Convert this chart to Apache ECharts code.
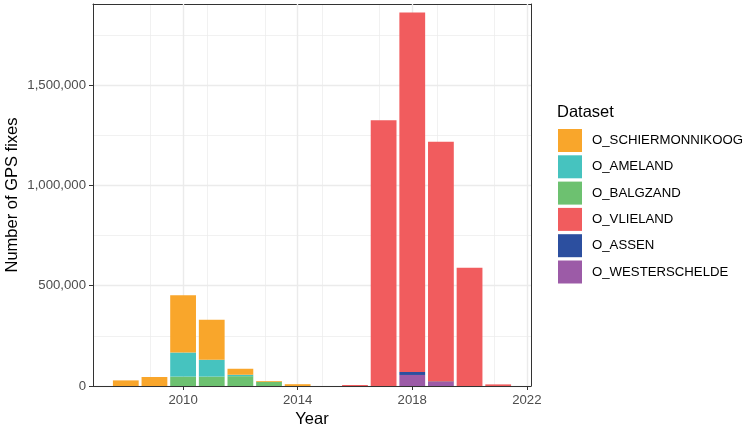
<!DOCTYPE html>
<html>
<head>
<meta charset="utf-8">
<script src="https://cdn.jsdelivr.net/npm/echarts@6/dist/echarts.min.js"></script>
<style>
  html, body { margin: 0; padding: 0; background: #fff; }
  #chart { width: 756px; height: 429px; }
</style>
</head>
<body>
<div id="chart"></div>
<script>
// ---- Data ----
var years = [2008, 2009, 2010, 2011, 2012, 2013, 2014, 2015, 2016, 2017, 2018, 2019, 2020, 2021];
var datasetNames = ['O_SCHIERMONNIKOOG', 'O_AMELAND', 'O_BALGZAND', 'O_VLIELAND', 'O_ASSEN', 'O_WESTERSCHELDE'];
var schiermonnikoog = [28000, 45000, 286000, 199000, 30000, 4000, 9000, 0, 0, 0, 0, 0, 0, 0];
var ameland         = [0, 0, 120000, 84000, 7000, 0, 0, 0, 0, 0, 0, 0, 0, 0];
var balgzand        = [0, 0, 47000, 47000, 49000, 21000, 0, 0, 0, 0, 0, 0, 0, 0];
var vlieland        = [0, 0, 0, 0, 0, 0, 0, 0, 5000, 1325000, 1793000, 1195000, 590000, 8000];
var assen           = [0, 0, 0, 0, 0, 0, 0, 0, 0, 0, 15000, 3000, 0, 0];
var westerschelde   = [0, 0, 0, 0, 0, 0, 0, 0, 0, 0, 55000, 20000, 0, 0];
var xTickLabels = [2010, 2014, 2018, 2022];
var yTickLabels = [0, 500000, 1000000, 1500000];

var seriesValues = {
  'O_SCHIERMONNIKOOG': schiermonnikoog,
  'O_AMELAND': ameland,
  'O_BALGZAND': balgzand,
  'O_VLIELAND': vlieland,
  'O_ASSEN': assen,
  'O_WESTERSCHELDE': westerschelde
};
var colors = {
  'O_SCHIERMONNIKOOG': '#F9A62B',
  'O_AMELAND': '#46C3BF',
  'O_BALGZAND': '#6DC170',
  'O_VLIELAND': '#F15C5E',
  'O_ASSEN': '#2C4F9F',
  'O_WESTERSCHELDE': '#9C5BA7'
};

var xMin = 2006.855, xMax = 2022.145;
var yMax = 1905000;
var font = '"Liberation Sans", Arial, Helvetica, sans-serif';

// stacking: last legend entry at the bottom.
// data given as [value, year] with encode so the value dimension is the stacked one.
var stackOrder = datasetNames.slice().reverse();
var series = stackOrder.map(function (name) {
  return {
    name: name,
    type: 'bar',
    stack: 'total',
    xAxisIndex: 0,
    yAxisIndex: 0,
    barWidth: '90%',
    encode: { x: 1, y: 0 },
    itemStyle: { color: colors[name] },
    data: years.map(function (y, i) { return [seriesValues[name][i], y]; }),
    z: 3
  };
});

var gridCol = '#EBEBEB';
var axisCol = '#333333';

var option = {
  animation: false,
  backgroundColor: '#ffffff',
  textStyle: { fontFamily: font },
  title: {
    text: 'Dataset',
    left: 557,
    top: 104,
    padding: 0,
    textStyle: { fontFamily: font, fontSize: 16.5, fontWeight: 'normal', color: '#000' }
  },
  legend: {
    data: datasetNames,
    orient: 'vertical',
    left: 558,
    top: 129,
    padding: 0,
    itemWidth: 24,
    itemHeight: 23,
    itemGap: 3.3,
    icon: 'rect',
    selectedMode: false,
    textStyle: { fontFamily: font, fontSize: 13.2, color: '#000', padding: [0, 0, 0, 5] }
  },
  grid: {
    left: 93, right: 225, top: 4, bottom: 43,
    containLabel: false,
    outerBoundsMode: 'none',
    show: false
  },
  xAxis: [
    {
      type: 'value',
      min: xMin, max: xMax,
      position: 'bottom',
      name: 'Year',
      nameLocation: 'middle',
      nameGap: 25,
      nameMoveOverlap: false,
      nameTextStyle: { fontFamily: font, fontSize: 16.5, color: '#000' },
      axisLine: { show: true, onZero: false, lineStyle: { color: axisCol, width: 1 } },
      axisTick: { show: true, length: 4, lineStyle: { color: axisCol }, customValues: xTickLabels },
      axisLabel: { customValues: xTickLabels, fontSize: 13.2, color: '#4D4D4D', margin: 8, fontFamily: font,
                   formatter: function (v) { return String(v); } },
      splitLine: { show: true, lineStyle: { color: gridCol, width: 1.4 } },
      z: 2
    },
    {
      type: 'value',
      min: xMin, max: xMax,
      interval: 2,
      position: 'top',
      axisLine: { show: true, onZero: false, lineStyle: { color: axisCol, width: 1 } },
      axisTick: { show: false },
      axisLabel: { show: false },
      splitLine: { show: true, lineStyle: { color: gridCol, width: 0.7 } },
      z: 1
    }
  ],
  yAxis: [
    {
      type: 'value',
      min: 0, max: yMax,
      position: 'left',
      name: 'Number of GPS fixes',
      nameLocation: 'middle',
      nameGap: 72,
      nameMoveOverlap: false,
      nameRotate: 90,
      nameTextStyle: { fontFamily: font, fontSize: 16.5, color: '#000' },
      axisLine: { show: true, onZero: false, lineStyle: { color: axisCol, width: 1 } },
      axisTick: { show: true, length: 4, lineStyle: { color: axisCol }, customValues: yTickLabels },
      axisLabel: { customValues: yTickLabels, fontSize: 13.2, color: '#4D4D4D', margin: 7, fontFamily: font,
                   formatter: function (v) { return Number(v).toLocaleString('en-US'); } },
      splitLine: { show: true, lineStyle: { color: gridCol, width: 1.4 } },
      z: 2
    },
    {
      type: 'value',
      min: 0, max: yMax,
      interval: 250000,
      position: 'right',
      axisLine: { show: true, onZero: false, lineStyle: { color: axisCol, width: 1 } },
      axisTick: { show: false },
      axisLabel: { show: false },
      splitLine: { show: true, lineStyle: { color: gridCol, width: 0.7 } },
      z: 1
    }
  ],
  series: series
};

var chart = echarts.init(document.getElementById('chart'), null, { renderer: 'canvas' });
chart.setOption(option);
</script>
</body>
</html>
